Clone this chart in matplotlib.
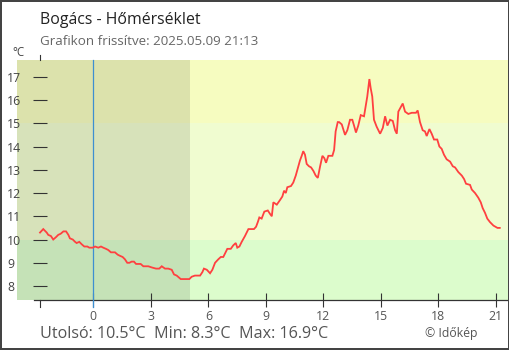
import matplotlib
matplotlib.use("Agg")
import matplotlib.pyplot as plt
from matplotlib import transforms
from matplotlib.patches import Rectangle

plt.rcParams['font.family'] = ['Open Sans', 'DejaVu Sans']

# Temperature over the last 24 hours (hours relative to midnight, °C)
hours = [-2.78, -2.61, -2.43, -2.35, -2.21, -2.09, -1.95, -1.83, -1.70, -1.56,
         -1.42, -1.30, -1.22, -1.07, -0.95, -0.87, -0.73, -0.61, -0.47, -0.31,
         -0.21, -0.03, 0.09, 0.26, 0.40, 0.52, 0.66, 0.78, 0.92, 1.13,
         1.27, 1.39, 1.53, 1.65, 1.77, 1.88, 2.00, 2.12, 2.23, 2.47,
         2.61, 2.87, 3.05, 3.27, 3.44, 3.57, 3.74, 3.91, 4.09, 4.21,
         4.35, 4.49, 4.56, 4.87, 5.01, 5.13, 5.30, 5.57, 5.69, 5.77,
         5.92, 6.09, 6.21, 6.35, 6.52, 6.65, 6.78, 6.87, 6.99, 7.17,
         7.30, 7.43, 7.51, 7.62, 7.74, 7.91, 8.09, 8.38, 8.49, 8.58,
         8.66, 8.78, 8.92, 9.10, 9.22, 9.31, 9.39, 9.57, 9.74, 9.86,
         9.95, 10.04, 10.12, 10.31, 10.43, 10.56, 10.66, 10.78, 10.87, 10.95,
         11.04, 11.13, 11.25, 11.36, 11.48, 11.60, 11.71, 11.83, 11.95, 12.05,
         12.14, 12.26, 12.47, 12.56, 12.64, 12.75, 12.82, 12.96, 13.13, 13.25,
         13.39, 13.51, 13.60, 13.70, 13.82, 13.95, 14.12, 14.22, 14.29, 14.40,
         14.47, 14.55, 14.64, 14.78, 14.96, 15.10, 15.22, 15.34, 15.48, 15.62,
         15.74, 15.83, 15.91, 16.04, 16.14, 16.26, 16.43, 16.61, 16.83, 16.92,
         17.04, 17.18, 17.30, 17.39, 17.53, 17.65, 17.77, 17.94, 18.05, 18.17,
         18.29, 18.43, 18.61, 18.75, 18.87, 19.04, 19.22, 19.34, 19.44, 19.65,
         19.74, 19.91, 20.08, 20.21, 20.31, 20.43, 20.55, 20.69, 20.87, 21.08,
         21.20]
temps = [10.3, 10.45, 10.3, 10.2, 10.15, 10.0, 10.1, 10.2, 10.25, 10.35,
         10.35, 10.2, 10.05, 10.0, 9.9, 9.85, 9.9, 9.8, 9.7, 9.7,
         9.65, 9.65, 9.7, 9.65, 9.7, 9.65, 9.6, 9.55, 9.45, 9.45,
         9.35, 9.3, 9.25, 9.15, 9.0, 9.0, 9.05, 9.05, 8.95, 8.95,
         8.85, 8.85, 8.8, 8.75, 8.75, 8.85, 8.75, 8.75, 8.7, 8.5,
         8.45, 8.35, 8.3, 8.3, 8.3, 8.4, 8.45, 8.45, 8.6, 8.75,
         8.7, 8.55, 8.7, 9.0, 9.15, 9.25, 9.25, 9.4, 9.6, 9.6,
         9.75, 9.85, 9.65, 9.7, 9.9, 10.15, 10.45, 10.45, 10.55, 10.75,
         10.95, 10.9, 11.2, 11.25, 11.1, 11.0, 11.6, 11.5, 11.7, 11.85,
         12.1, 12.0, 12.25, 12.3, 12.45, 12.75, 13.05, 13.4, 13.6, 13.8,
         13.65, 13.25, 13.15, 13.1, 12.95, 12.75, 12.65, 13.15, 13.6, 13.5,
         13.3, 13.6, 13.6, 13.85, 14.65, 15.05, 15.05, 14.95, 14.5, 14.7,
         15.15, 15.15, 14.9, 14.6, 14.9, 15.35, 15.3, 15.8, 16.15, 16.9,
         16.5, 16.15, 15.15, 14.85, 14.55, 14.8, 15.3, 14.9, 15.15, 15.1,
         14.7, 14.55, 15.5, 15.7, 15.85, 15.5, 15.4, 15.45, 15.45, 15.55,
         15.05, 14.7, 14.65, 14.45, 14.75, 14.55, 14.3, 14.3, 14.0, 13.9,
         13.65, 13.45, 13.35, 13.15, 13.1, 12.9, 12.75, 12.6, 12.4, 12.35,
         12.15, 12.0, 11.8, 11.6, 11.35, 11.15, 10.9, 10.75, 10.6, 10.5,
         10.5]

station = "Bogács"
updated = "2025.05.09 21:13"
x_ticks = [0, 3, 6, 9, 12, 15, 18, 21]
y_ticks = [8, 9, 10, 11, 12, 13, 14, 15, 16, 17]
band_limits = [10, 15]          # cool / mild / warm zones
band_colors = ["#dcfccc", "#f0fcd0", "#f6fcc0"]
sunrise = 5.05

W, H, DPI = 510, 350, 100
fig = plt.figure(figsize=(W / DPI, H / DPI), dpi=DPI)
fig.patch.set_facecolor("white")


def px_box(x0, y0, x1, y1):
    return [x0 / W, 1 - y1 / H, (x1 - x0) / W, (y1 - y0) / H]


def fx(x):
    return x / W


def fy(y):
    return 1 - y / H


ax = fig.add_axes(px_box(17, 60, 508, 300))
xmin, xmax = -3.98, 21.63
ymin, ymax = 7.40, 17.72
ax.set_xlim(xmin, xmax)
ax.set_ylim(ymin, ymax)
ax.set_facecolor("white")

# temperature zones
edges = [ymin] + band_limits + [ymax]
for lo, hi, c in zip(edges[:-1], edges[1:], band_colors):
    ax.axhspan(lo, hi, color=c, lw=0, zorder=0.5)

# night shading
ax.axvspan(xmin, sunrise, color="black", alpha=0.1, lw=0, zorder=0.6)

# midnight marker, running slightly below the time axis
ax.axvline(0, ymin=-0.029, ymax=1.0, color="#3d8fd1", lw=0.9, zorder=5,
           clip_on=False)

# temperature curve
ax.plot(hours, temps, color="#ff4040", lw=1.3, zorder=6, solid_joinstyle="miter")

# axes styling
for s in ("top", "right"):
    ax.spines[s].set_visible(False)
ax.spines["left"].set_position(("data", hours[0]))
ax.spines["left"].set_visible(False)
ax.spines["bottom"].set_bounds(-3.09, xmax)
ax.spines["bottom"].set_color("#333333")
ax.spines["bottom"].set_linewidth(0.9)
ax.spines["bottom"].set_zorder(4)

ax.set_xticks(x_ticks)
ax.set_xticklabels([str(t) for t in x_ticks])
ax.set_yticks(y_ticks)
ax.set_yticklabels([str(t) for t in y_ticks])
ax.tick_params(axis="x", direction="inout", length=9.4, width=0.8,
               color="#333333", labelsize=8.8, labelcolor="#555555", pad=2.2)
ax.tick_params(axis="y", direction="inout", length=9.4, width=0.8,
               color="#333333", labelsize=8.8, labelcolor="#444444", pad=19)
for lbl in ax.get_yticklabels():
    lbl.set_horizontalalignment("left")

# short stubs of the value axis above and below the plot area
stub = transforms.blended_transform_factory(ax.transData, ax.transAxes)
ax.plot([hours[0], hours[0]], [1.0, 1.021], transform=stub, clip_on=False,
        color="#333333", lw=0.8)
ax.plot([hours[0], hours[0]], [-0.029, 0.0], transform=stub, clip_on=False,
        color="#333333", lw=0.8)

# texts
fig.text(fx(40.5), fy(24), f"{station} - Hőmérséklet", fontsize=11.4,
         color="#222222", va="baseline", ha="left")
fig.text(fx(40.5), fy(45), f"Grafikon frissítve: {updated}", fontsize=9.6,
         color="#666666", va="baseline", ha="left")
fig.text(fx(12), fy(56), "°C", fontsize=8.3, color="#444444",
         va="baseline", ha="left")

summary = (f"Utolsó: {temps[-1]:.1f}°C  Min: {min(temps):.1f}°C  "
           f"Max: {max(temps):.1f}°C")
fig.text(fx(40.5), fy(338.5), summary, fontsize=11.6, color="#555555",
         va="baseline", ha="left")
fig.text(fx(425), fy(337), "© Időkép", fontsize=8.8, color="#555555",
         va="baseline", ha="left")

# frame around the whole picture
fig.patches.append(Rectangle((1 / W, 1 / H), 1 - 2 / W, 1 - 2 / H,
                             transform=fig.transFigure, fill=False,
                             lw=1.44, ec="#444444"))

fig.savefig("out.png", dpi=DPI)
